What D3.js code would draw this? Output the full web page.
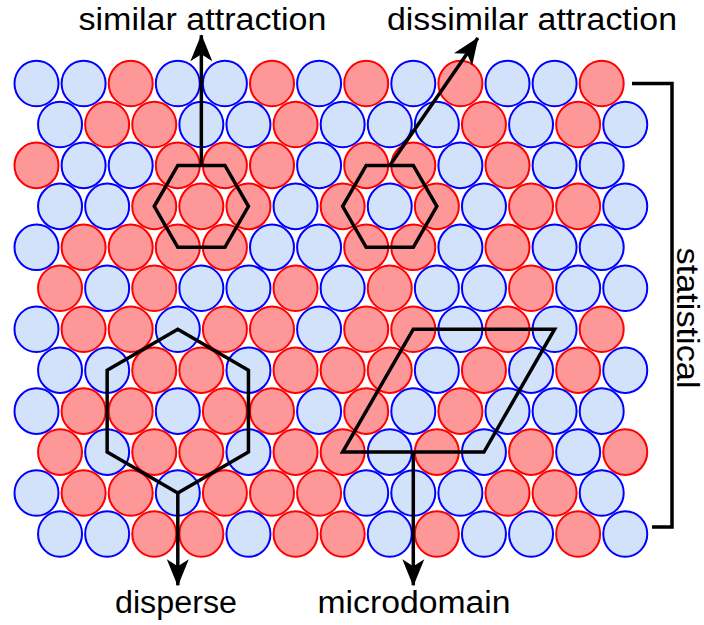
<!DOCTYPE html>
<html>
<head>
<meta charset="utf-8">
<script src="https://cdn.jsdelivr.net/npm/d3@7"></script>
<style>
  body { margin: 0; background: #fff; }
  svg { display: block; }
</style>
</head>
<body>
<div id="chart"></div>
<script>
// particle colours, one string per lattice row (B = blue, R = red); odd rows shifted half a cell
var rows = [
  'BBRBBRBRBRBBR',
  'BRRBBRBBBRBRB',
  'RBBRRRBRRBRBB',
  'BBRRRBRBRBRRB',
  'BRRRRBBRRBRBB',
  'RBRBBRBRBBRBB',
  'BRRBRRBRRBRBR',
  'BBRRBRRRBRBRB',
  'BRRBRRBRBRBBB',
  'RBRRBRRBRBRBR',
  'BRRBRRRBBBRRB',
  'BBRRBRRBRBBRB'
];

// outlines in lattice units [column, row]
var similarHex = [[3, 2], [4, 2], [4.5, 3], [4, 4], [3, 4], [2.5, 3]];
var dissimilarHex = [[7, 2], [8, 2], [8.5, 3], [8, 4], [7, 4], [6.5, 3]];
var disperseHex = [[3, 6], [4.5, 7], [4.5, 9], [3, 10], [1.5, 9], [1.5, 7]];
var microdomain = [[8, 6], [11, 6], [9.5, 9], [6.5, 9]];

// arrows: from, to (lattice units)
var arrows = [
  [[3.5, 2], [3.5, -1.18]],
  [[7.5, 2], [9.37, -1.11]],
  [[3, 10], [3, 12.25]],
  [[8, 9], [8, 12.25]]
];

var labels = ['similar attraction', 'dissimilar attraction', 'disperse', 'microdomain', 'statistical'];

var W = 704, H = 625;
var xScale = d3.scaleLinear().domain([0, 12]).range([36.5, 601.7]);
var yScale = d3.scaleLinear().domain([0, 11]).range([83.5, 534]);

var fills = { B: '#d2e2fa', R: '#fe9898' };
var strokes = { B: '#0000ff', R: '#ff0000' };

var svg = d3.select('#chart').append('svg')
  .attr('width', W)
  .attr('height', H);

var defs = svg.append('defs');
defs.append('marker')
  .attr('id', 'head')
  .attr('markerUnits', 'userSpaceOnUse')
  .attr('viewBox', '-28 -13 30 26')
  .attr('refX', 0)
  .attr('refY', 0)
  .attr('markerWidth', 30)
  .attr('markerHeight', 26)
  .attr('orient', 'auto')
  .append('path')
  .attr('d', 'M1,0 L-26,-11 L-19,0 L-26,11 Z')
  .attr('fill', '#000');

var cells = [];
rows.forEach(function(r, i) {
  r.split('').forEach(function(c, j) {
    cells.push({ row: i, col: j + (i % 2) * 0.5, type: c });
  });
});

svg.append('g').selectAll('ellipse')
  .data(cells)
  .enter().append('ellipse')
  .attr('cx', function(d) { return xScale(d.col); })
  .attr('cy', function(d) { return yScale(d.row); })
  .attr('rx', 22)
  .attr('ry', 22.8)
  .attr('fill', function(d) { return fills[d.type]; })
  .attr('stroke', function(d) { return strokes[d.type]; })
  .attr('stroke-width', 2);

var toPts = function(p) {
  return p.map(function(q) { return xScale(q[0]) + ',' + yScale(q[1]); }).join(' ');
};

svg.append('g').selectAll('polygon')
  .data([similarHex, dissimilarHex, disperseHex, microdomain])
  .enter().append('polygon')
  .attr('points', toPts)
  .attr('fill', 'none')
  .attr('stroke', '#000')
  .attr('stroke-width', 3.5)
  .attr('stroke-linejoin', 'miter');

svg.append('g').selectAll('line')
  .data(arrows)
  .enter().append('line')
  .attr('x1', function(d) { return xScale(d[0][0]); })
  .attr('y1', function(d) { return yScale(d[0][1]); })
  .attr('x2', function(d) { return xScale(d[1][0]); })
  .attr('y2', function(d) { return yScale(d[1][1]); })
  .attr('stroke', '#000')
  .attr('stroke-width', 3.5)
  .attr('marker-end', 'url(#head)');

// bracket on the right
var bx = 672;
svg.append('path')
  .attr('d', 'M' + 632 + ',' + yScale(0) + ' H' + bx + ' V' + (yScale(11) - 7) + ' H' + 652)
  .attr('fill', 'none')
  .attr('stroke', '#000')
  .attr('stroke-width', 3.5);

var txt = [
  { t: labels[0], x: 202.5, y: 30, len: 248 },
  { t: labels[1], x: 532, y: 30, len: 290 },
  { t: labels[2], x: 176, y: 613, len: 122 },
  { t: labels[3], x: 414, y: 613, len: 193 }
];

svg.append('g').selectAll('text')
  .data(txt)
  .enter().append('text')
  .attr('x', function(d) { return d.x; })
  .attr('y', function(d) { return d.y; })
  .attr('text-anchor', 'middle')
  .attr('font-family', 'Liberation Sans, Arial, sans-serif')
  .attr('font-size', 31)
  .attr('textLength', function(d) { return d.len; })
  .attr('lengthAdjust', 'spacingAndGlyphs')
  .text(function(d) { return d.t; });

svg.append('text')
  .attr('transform', 'translate(677,318) rotate(90)')
  .attr('text-anchor', 'middle')
  .attr('font-family', 'Liberation Sans, Arial, sans-serif')
  .attr('font-size', 31)
  .attr('textLength', 141)
  .attr('lengthAdjust', 'spacingAndGlyphs')
  .text(labels[4]);
</script>
</body>
</html>
